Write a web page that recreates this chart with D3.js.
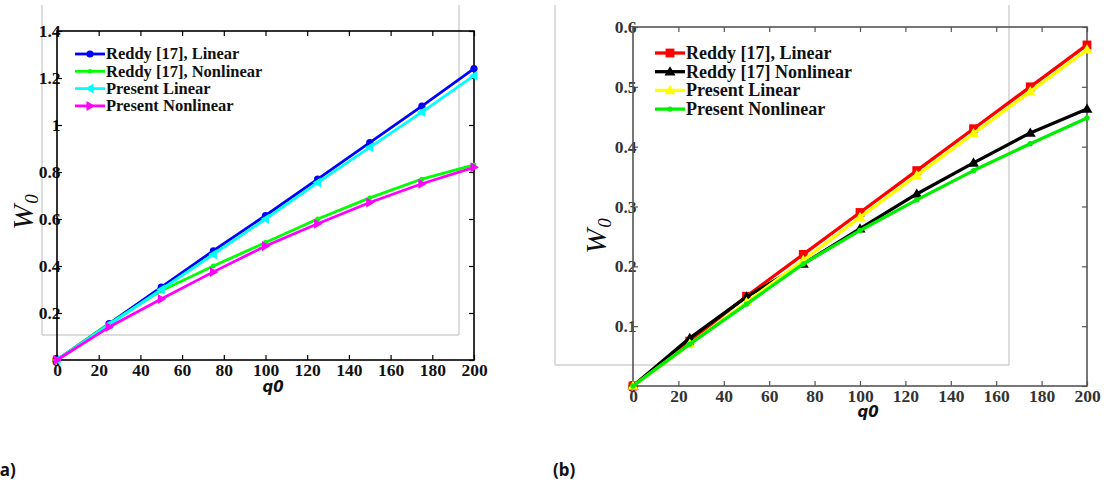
<!DOCTYPE html>
<html><head><meta charset="utf-8">
<script src="https://cdn.jsdelivr.net/npm/d3@7"></script>
<style>
body{margin:0;background:#fff;}
svg{display:block;}
</style></head>
<body>
<svg id="c" width="1107" height="485"></svg>
<script>
// ---------- data ----------
const q0 = [0, 25, 50, 75, 100, 125, 150, 175, 200];
// chart (a)
const aReddyLinear     = [0, 0.155, 0.31, 0.465, 0.615, 0.77, 0.925, 1.08, 1.24];
const aReddyNonlinear  = [0, 0.155, 0.295, 0.40, 0.50, 0.60, 0.69, 0.77, 0.83];
const aPresentLinear   = [0, 0.15, 0.30, 0.45, 0.60, 0.755, 0.905, 1.055, 1.21];
const aPresentNonlinear= [0, 0.14, 0.26, 0.375, 0.485, 0.58, 0.67, 0.75, 0.82];
// chart (b)
const bReddyLinear     = [0, 0.075, 0.15, 0.22, 0.29, 0.36, 0.43, 0.50, 0.57];
const bReddyNonlinear  = [0, 0.08, 0.149, 0.204, 0.263, 0.321, 0.373, 0.423, 0.463];
const bPresentLinear   = [0, 0.07, 0.14, 0.21, 0.282, 0.352, 0.422, 0.492, 0.562];
const bPresentNonlinear= [0, 0.07, 0.137, 0.204, 0.26, 0.311, 0.36, 0.405, 0.448];
const xTicks = [0,20,40,60,80,100,120,140,160,180,200];
const aYTicks = [0,0.2,0.4,0.6,0.8,1,1.2,1.4];
const bYTicks = [0,0.1,0.2,0.3,0.4,0.5,0.6];
const aNames = ["Reddy [17], Linear","Reddy [17], Nonlinear","Present Linear","Present Nonlinear"];
const bNames = ["Reddy [17], Linear","Reddy [17] Nonlinear","Present Linear","Present Nonlinear"];

const svg = d3.select("#c");
const serif = "'Liberation Serif','Times New Roman',serif";

function marker(g, type, color, x, y, k) {
  k = k || 1;
  if (type === "circle") g.append("circle").attr("cx",x).attr("cy",y).attr("r",3.6*k).attr("fill",color);
  else if (type === "dot") g.append("circle").attr("cx",x).attr("cy",y).attr("r",2.4*k).attr("fill",color);
  else if (type === "square") g.append("rect").attr("x",x-4*k).attr("y",y-4*k).attr("width",8*k).attr("height",8*k).attr("fill",color);
  else {
    const s = 5*k;
    let pts;
    if (type === "triUp") pts = [[x,y-s],[x-s,y+s*0.7],[x+s,y+s*0.7]];
    else if (type === "triLeft") pts = [[x-s,y],[x+s*0.7,y-s],[x+s*0.7,y+s]];
    else pts = [[x+s,y],[x-s*0.7,y-s],[x-s*0.7,y+s]];
    g.append("polygon").attr("points",pts.map(p=>p.join(",")).join(" ")).attr("fill",color);
  }
}

function drawChart(cfg) {
  const x = d3.scaleLinear().domain([0,200]).range([cfg.x0, cfg.x1]);
  const y = d3.scaleLinear().domain([0,cfg.ymax]).range([cfg.y0, cfg.y1]);
  const g = svg.append("g");
  // gray frame artifacts
  g.append("path")
    .attr("d",`M${cfg.gx0},${cfg.gyTop} V${cfg.gy1} H${cfg.gx1} V${cfg.gyTop}`)
    .attr("fill","none").attr("stroke","#bbb").attr("stroke-width",1);

  const fmt = d => d3.format("~g")(d);
  const styleAxis = (sel) => {
    sel.select(".domain").remove();
    sel.selectAll("line").attr("stroke",cfg.axisColor).attr("stroke-width",1.2);
    sel.selectAll("text").attr("font-family",serif).attr("font-weight","bold")
      .attr("font-size",17.5).attr("fill",cfg.textColor);
  };
  g.append("g").attr("transform",`translate(0,${cfg.y0})`)
    .call(d3.axisBottom(x).tickValues(xTicks).tickFormat(fmt).tickSizeInner(-5).tickSizeOuter(0).tickPadding(4))
    .call(styleAxis);
  g.append("g").attr("transform",`translate(0,${cfg.y1})`)
    .call(d3.axisTop(x).tickValues(xTicks).tickFormat("").tickSizeInner(-5).tickSizeOuter(0))
    .call(styleAxis);
  g.append("g").attr("transform",`translate(${cfg.x0},0)`)
    .call(d3.axisLeft(y).tickValues(cfg.yTicks).tickFormat(fmt).tickSizeInner(-5).tickSizeOuter(0).tickPadding(-3.5))
    .call(styleAxis);
  g.append("g").attr("transform",`translate(${cfg.x1},0)`)
    .call(d3.axisRight(y).tickValues(cfg.yTicks).tickFormat("").tickSizeInner(-5).tickSizeOuter(0))
    .call(styleAxis);
  g.append("rect").attr("x",cfg.x0).attr("y",cfg.y1).attr("width",cfg.x1-cfg.x0).attr("height",cfg.y0-cfg.y1)
    .attr("fill","none").attr("stroke",cfg.axisColor).attr("stroke-width",cfg.frameW);

  // series
  const line = d3.line().x((d,i)=>x(q0[i])).y(d=>y(d));
  cfg.series.forEach(s => {
    g.append("path").attr("d",line(s.values)).attr("fill","none")
      .attr("stroke",s.color).attr("stroke-width",cfg.lw).attr("stroke-linejoin","round");
    s.values.forEach((v,i)=>marker(g, s.marker, s.color, x(q0[i]), y(v), cfg.mk));
  });

  // legend
  cfg.series.forEach((s,i) => {
    const ly = cfg.legY + i*cfg.legStep;
    g.append("line").attr("x1",cfg.legX).attr("x2",cfg.legX+30).attr("y1",ly).attr("y2",ly)
      .attr("stroke",s.color).attr("stroke-width",cfg.lw);
    marker(g, s.marker, s.color, cfg.legX+15, ly, cfg.mk);
    g.append("text").attr("x",cfg.legX+31).attr("y",ly).attr("dy","0.33em")
      .attr("font-family",serif).attr("font-weight","bold").attr("font-size",cfg.legFont)
      .attr("fill","#111").text(s.name);
  });

  // axis titles
  g.append("text").attr("x",cfg.qx).attr("y",cfg.qy).attr("text-anchor","middle")
    .attr("font-family","'DejaVu Sans',sans-serif").attr("font-weight","bold").attr("font-style","italic")
    .attr("font-size",15).attr("fill","#111").text("q0");
  const w = g.append("text").attr("transform",`translate(${cfg.wx},${cfg.wy}) rotate(-90)`)
    .attr("text-anchor","middle").attr("font-family",serif).attr("font-style","italic")
    .attr("font-size",30).attr("fill","#111");
  w.append("tspan").text("W");
  w.append("tspan").attr("font-size",19).attr("dy",5).attr("dx",1).text("0");

  g.append("text").attr("x",cfg.lblX).attr("y",476)
    .attr("font-family","'Noto Sans',sans-serif").attr("font-weight","bold")
    .attr("font-size",17).attr("fill","#111").text(cfg.label);
}

drawChart({
  x0:57, x1:474, y0:360, y1:31, ymax:1.4, yTicks:aYTicks,
  gx0:42, gx1:459, gy1:335, gyTop:5,
  axisColor:"#000", textColor:"#111", frameW:1.6, lw:2.8, mk:1,
  legX:75, legY:54, legStep:17.3, legFont:16.5,
  qx:273, qy:392, wx:33, wy:212, lblX:-6, label:"(a)",
  series:[
    {name:aNames[0], values:aReddyLinear, color:"#0000ff", marker:"circle"},
    {name:aNames[1], values:aReddyNonlinear, color:"#00ff00", marker:"dot"},
    {name:aNames[2], values:aPresentLinear, color:"#00ffff", marker:"triLeft"},
    {name:aNames[3], values:aPresentNonlinear, color:"#ff00ff", marker:"triRight"}
  ]
});
drawChart({
  x0:633, x1:1087, y0:386, y1:27, ymax:0.6, yTicks:bYTicks,
  gx0:555, gx1:1009, gy1:365, gyTop:5,
  axisColor:"#555", textColor:"#333", frameW:1.6, lw:3.3, mk:1.1,
  legX:655, legY:53, legStep:18.7, legFont:18,
  qx:868, qy:417, wx:606, wy:236, lblX:553, label:"(b)",
  series:[
    {name:bNames[0], values:bReddyLinear, color:"#ff0000", marker:"square"},
    {name:bNames[1], values:bReddyNonlinear, color:"#000000", marker:"triUp"},
    {name:bNames[2], values:bPresentLinear, color:"#ffff00", marker:"triUp"},
    {name:bNames[3], values:bPresentNonlinear, color:"#00ee00", marker:"dot"}
  ]
});
</script>
</body></html>
